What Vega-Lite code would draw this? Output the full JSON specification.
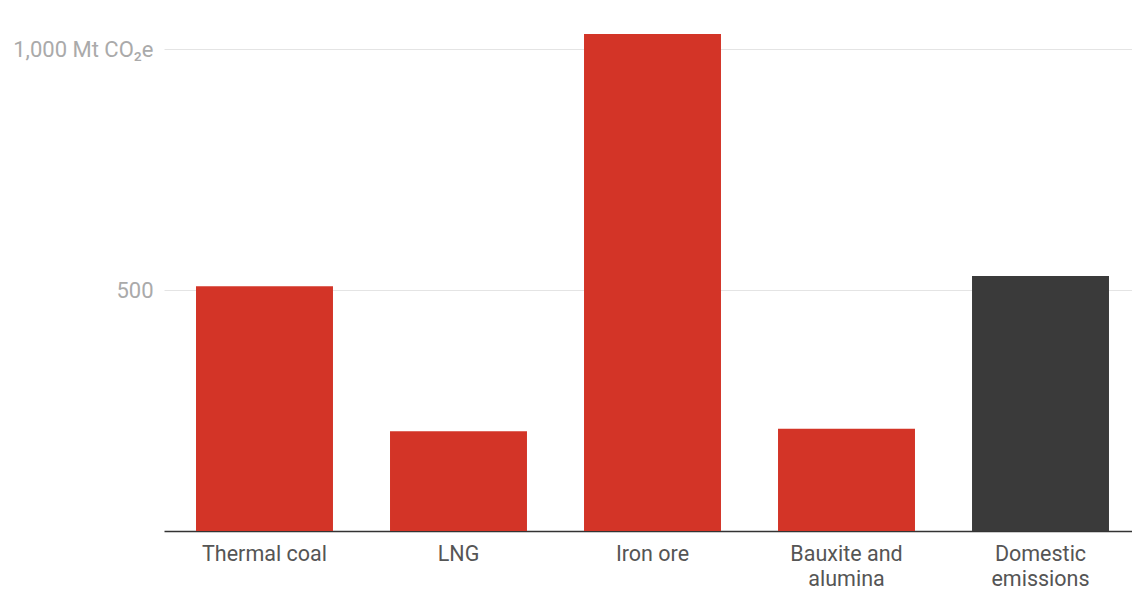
{
  "$schema": "https://vega.github.io/schema/vega-lite/v6.json",
  "autosize": "none",
  "width": 977,
  "height": 482,
  "padding": {"left": 164, "top": 49, "right": 0, "bottom": 60},
  "background": "white",
  "config": {"view": {"stroke": null}, "font": "Roboto"},
  "data": {"values": [
    {"category": "Thermal coal", "emissions": 508, "group": "export"},
    {"category": "LNG", "emissions": 207, "group": "export"},
    {"category": "Iron ore", "emissions": 1031, "group": "export"},
    {"category": "Bauxite and alumina", "emissions": 212, "group": "export"},
    {"category": "Domestic emissions", "emissions": 529, "group": "domestic"}
  ]},
  "mark": {"type": "bar"},
  "encoding": {
    "x": {
      "field": "category", "type": "nominal", "sort": null,
      "scale": {"paddingInner": 0.294, "paddingOuter": 0.165},
      "axis": {
        "title": null, "labelAngle": 0, "ticks": false,
        "domainColor": "#333333", "domainWidth": 1.5,
        "labelFont": "Roboto", "labelFontSize": 21.5, "labelColor": "#555555",
        "labelPadding": 12, "labelLineHeight": 25,
        "labelExpr": "datum.label == 'Bauxite and alumina' ? ['Bauxite and', 'alumina'] : datum.label == 'Domestic emissions' ? ['Domestic', 'emissions'] : datum.label"
      }
    },
    "y": {
      "field": "emissions", "type": "quantitative",
      "scale": {"domain": [0, 1000], "nice": false},
      "axis": {
        "title": null, "values": [500, 1000], "domain": false, "ticks": false,
        "gridColor": "#e4e4e4", "gridWidth": 1,
        "labelFont": "Roboto", "labelFontSize": 22, "labelColor": "#aaaaaa",
        "labelPadding": 11,
        "labelExpr": "datum.value == 1000 ? '1,000 Mt CO₂e' : format(datum.value, ',')"
      }
    },
    "color": {
      "field": "group", "type": "nominal", "legend": null,
      "scale": {"domain": ["export", "domestic"], "range": ["#d33427", "#3a3a3a"]}
    }
  }
}
